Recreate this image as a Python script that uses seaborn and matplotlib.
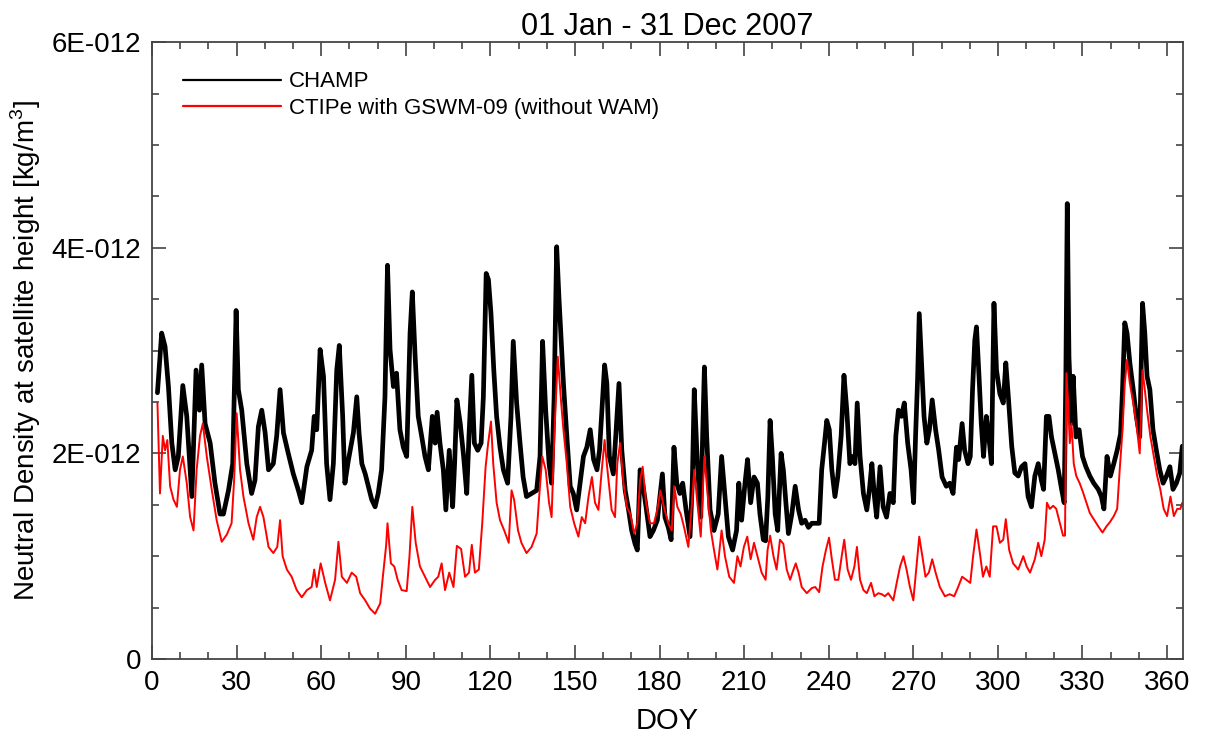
import matplotlib
matplotlib.use("Agg")
import matplotlib.pyplot as plt
from matplotlib.ticker import MultipleLocator
import seaborn as sns
import pandas as pd

# CHAMP, day of year and density (units of 1E-012 kg/m3)
champ_doy = [
    1.9, 3.4, 4.6, 5.8, 7.0, 8.2, 9.3, 10.9, 12.3, 14.1,
    15.6, 16.8, 17.6, 18.8, 20.6, 22.3, 24.1, 25.3, 27.1, 28.6,
    29.8, 30.6, 31.8, 33.6, 35.3, 36.5, 37.7, 38.9, 40.1, 41.3,
    43.0, 44.2, 45.4, 46.6, 48.3, 50.1, 51.9, 53.1, 54.9, 56.6,
    57.5, 58.4, 59.6, 60.8, 61.9, 63.1, 64.3, 65.5, 66.4, 67.6,
    68.4, 69.6, 71.4, 72.6, 73.4, 74.4, 75.6, 76.7, 77.9, 79.1,
    80.2, 81.4, 82.6, 83.5, 84.4, 85.6, 86.7, 87.9, 89.1, 90.3,
    91.5, 92.3, 93.3, 94.4, 95.6, 96.8, 98.0, 99.4, 100.4, 101.1,
    102.1, 103.3, 104.2, 105.4, 106.6, 107.3, 108.1, 109.3, 110.5, 111.6,
    112.4, 113.4, 114.3, 115.5, 116.7, 117.5, 118.5, 119.3, 120.2, 121.2,
    122.2, 123.4, 124.6, 126.1, 127.3, 128.1, 129.3, 130.5, 131.6, 132.8,
    134.6, 136.4, 137.6, 138.5, 139.6, 140.8, 141.7, 142.6, 143.5, 144.3,
    144.9, 145.9, 147.1, 148.3, 149.4, 150.6, 151.8, 153.0, 154.2, 155.4,
    156.6, 157.8, 158.7, 159.7, 160.5, 161.3, 162.2, 163.6, 164.6, 165.6,
    166.6, 167.8, 169.0, 170.1, 171.3, 172.1, 173.1, 174.0, 175.2, 176.6,
    177.8, 179.2, 180.1, 181.0, 181.9, 183.1, 184.1, 185.1, 186.1, 187.2,
    188.2, 189.4, 190.8, 191.6, 192.3, 193.4, 194.6, 195.3, 195.9, 196.7,
    197.9, 199.3, 200.8, 202.0, 203.2, 204.4, 205.9, 207.3, 208.1, 209.1,
    210.3, 211.2, 212.3, 213.5, 214.7, 215.6, 216.8, 217.6, 218.4, 219.2,
    220.0, 221.0, 221.9, 223.1, 223.9, 224.8, 225.7, 226.9, 228.1, 229.3,
    230.4, 231.6, 232.8, 234.0, 235.2, 236.6, 237.5, 238.5, 239.3, 240.2,
    241.1, 242.2, 243.2, 244.4, 245.4, 246.4, 247.5, 248.4, 249.3, 250.1,
    251.1, 252.3, 253.5, 254.4, 255.3, 256.2, 257.0, 258.2, 259.3, 260.5,
    261.7, 262.9, 263.8, 264.7, 265.8, 266.8, 268.0, 269.2, 270.1, 270.8,
    271.5, 272.1, 272.9, 273.8, 274.8, 275.7, 276.7, 277.9, 279.0, 280.2,
    281.7, 282.9, 284.1, 285.3, 286.1, 287.3, 288.2, 289.4, 290.2, 291.0,
    291.8, 292.4, 293.3, 294.1, 294.9, 295.9, 296.8, 297.7, 298.3, 298.6,
    299.5, 300.7, 301.9, 302.8, 303.7, 304.9, 306.0, 307.2, 308.4, 309.6,
    310.7, 311.9, 313.1, 314.3, 315.4, 316.2, 317.2, 318.1, 319.0, 320.2,
    321.4, 322.6, 323.5, 324.1, 324.6, 325.2, 326.1, 326.7, 327.7, 328.8,
    330.0, 331.2, 332.6, 334.0, 335.6, 336.7, 337.6, 338.7, 339.9, 341.1,
    342.3, 343.5, 344.2, 345.0, 345.8, 346.8, 348.0, 349.1, 350.3, 351.3,
    352.1, 352.9, 353.9, 355.0, 356.2, 357.4, 358.6, 359.8, 361.0, 362.1,
    363.3, 364.5, 365.4,
]
champ_rho = [
    2.59, 3.17, 3.04, 2.65, 2.10, 1.84, 1.97, 2.66, 2.36, 1.58,
    2.81, 2.42, 2.86, 2.29, 2.10, 1.71, 1.41, 1.41, 1.64, 1.90,
    3.39, 2.62, 2.42, 1.90, 1.61, 1.74, 2.26, 2.42, 2.20, 1.84,
    1.90, 2.17, 2.62, 2.20, 2.00, 1.80, 1.64, 1.52, 1.87, 2.03,
    2.36, 2.23, 3.01, 2.75, 1.90, 1.55, 1.90, 2.81, 3.05, 2.36,
    1.71, 1.93, 2.20, 2.55, 2.20, 1.90, 1.80, 1.68, 1.55, 1.48,
    1.61, 1.84, 2.55, 3.83, 3.01, 2.65, 2.78, 2.23, 2.06, 1.97,
    3.17, 3.57, 2.94, 2.36, 2.17, 1.97, 1.84, 2.36, 2.10, 2.40,
    2.10, 1.84, 1.45, 2.03, 1.48, 1.90, 2.52, 2.29, 1.97, 1.61,
    2.17, 2.76, 2.10, 2.03, 2.10, 2.55, 3.75, 3.69, 3.36, 2.81,
    2.36, 2.06, 1.84, 1.71, 2.36, 3.09, 2.49, 2.10, 1.77, 1.58,
    1.61, 1.64, 1.97, 3.09, 2.42, 1.90, 1.71, 2.55, 4.01, 3.52,
    3.20, 2.68, 2.17, 1.68, 1.61, 1.45, 1.71, 1.97, 2.06, 2.23,
    1.94, 1.84, 2.03, 2.49, 2.86, 2.68, 1.97, 1.80, 2.23, 2.68,
    2.03, 1.64, 1.45, 1.25, 1.12, 1.06, 1.84, 1.71, 1.48, 1.19,
    1.25, 1.35, 1.58, 1.80, 1.38, 1.28, 1.16, 2.06, 1.71, 1.61,
    1.71, 1.45, 1.19, 1.71, 2.62, 1.90, 1.38, 2.20, 2.84, 2.17,
    1.45, 1.25, 1.41, 1.97, 1.58, 1.19, 1.06, 1.25, 1.71, 1.35,
    1.71, 1.94, 1.52, 1.77, 1.71, 1.41, 1.16, 1.15, 1.58, 2.32,
    1.97, 1.41, 1.25, 2.00, 1.84, 1.52, 1.22, 1.41, 1.68, 1.45,
    1.32, 1.35, 1.28, 1.32, 1.32, 1.32, 1.84, 2.10, 2.32, 2.23,
    1.84, 1.58, 1.77, 2.17, 2.76, 2.42, 1.90, 1.97, 1.90, 2.49,
    1.97, 1.61, 1.45, 1.64, 1.90, 1.58, 1.38, 1.87, 1.48, 1.38,
    1.61, 1.52, 2.17, 2.42, 2.36, 2.49, 2.10, 1.84, 1.52, 2.17,
    2.71, 3.36, 2.88, 2.36, 2.10, 2.23, 2.52, 2.23, 2.03, 1.77,
    1.68, 1.71, 1.61, 2.06, 1.94, 2.29, 2.03, 1.90, 1.97, 2.62,
    3.10, 3.23, 2.75, 2.29, 1.97, 2.36, 2.16, 1.90, 2.94, 3.46,
    2.81, 2.58, 2.49, 2.88, 2.55, 2.07, 1.81, 1.78, 1.87, 1.90,
    1.58, 1.48, 1.78, 1.90, 1.74, 1.65, 2.36, 2.36, 2.16, 2.00,
    1.84, 1.65, 1.52, 2.75, 4.43, 2.94, 2.29, 2.75, 2.16, 2.23,
    1.97, 1.87, 1.78, 1.71, 1.65, 1.58, 1.46, 1.97, 1.78, 1.90,
    2.03, 2.19, 2.62, 3.27, 3.17, 2.88, 2.62, 2.36, 2.16, 3.46,
    3.17, 2.75, 2.62, 2.23, 2.03, 1.84, 1.71, 1.78, 1.87, 1.65,
    1.71, 1.81, 2.07,
]

# CTIPe with GSWM-09, same units
ctipe_doy = [
    1.9, 2.8, 3.8, 4.6, 5.4, 6.4, 7.6, 8.8, 9.9, 10.9,
    12.3, 13.5, 14.7, 15.8, 17.0, 18.0, 19.4, 21.2, 22.9, 24.7,
    26.5, 28.2, 29.1, 30.0, 31.2, 32.4, 34.2, 35.9, 37.1, 38.3,
    39.5, 41.3, 43.0, 44.4, 45.4, 46.3, 47.8, 49.5, 51.3, 53.1,
    54.9, 56.6, 57.5, 58.4, 59.8, 61.4, 63.1, 64.9, 66.1, 67.3,
    69.1, 70.8, 72.4, 73.8, 75.6, 77.3, 79.1, 80.9, 82.0, 83.0,
    83.5, 84.7, 85.9, 87.1, 88.5, 90.3, 91.3, 92.3, 93.5, 95.0,
    96.8, 98.6, 100.4, 101.5, 102.7, 103.9, 105.4, 106.9, 108.1, 109.6,
    111.0, 112.4, 113.4, 114.5, 115.9, 117.1, 118.3, 119.2, 120.2, 121.0,
    122.2, 123.4, 124.9, 126.5, 127.5, 128.4, 129.8, 131.0, 132.8, 134.6,
    136.4, 137.3, 138.4, 139.6, 140.8, 141.7, 142.7, 143.9, 145.1, 145.9,
    147.1, 148.3, 149.7, 151.2, 152.4, 153.6, 154.8, 156.0, 157.1, 158.3,
    159.5, 160.5, 161.5, 163.0, 164.2, 165.0, 166.0, 167.2, 168.4, 169.6,
    171.0, 172.1, 173.1, 174.0, 175.2, 176.6, 178.0, 179.2, 180.3, 181.5,
    183.1, 184.3, 185.2, 186.3, 187.5, 188.7, 190.2, 191.4, 192.3, 193.4,
    194.6, 195.9, 197.0, 198.2, 199.3, 200.5, 202.0, 203.2, 204.7, 206.4,
    207.6, 208.7, 209.9, 211.1, 212.3, 213.5, 214.7, 216.2, 217.6, 218.3,
    219.2, 220.4, 221.5, 222.7, 223.9, 225.1, 226.3, 227.5, 228.3, 229.3,
    230.4, 232.2, 234.0, 235.2, 236.6, 237.8, 239.0, 240.1, 241.1, 242.2,
    243.4, 244.6, 245.5, 246.7, 247.9, 249.1, 250.0, 251.1, 252.3, 253.5,
    255.0, 256.2, 257.6, 258.8, 259.9, 261.1, 262.9, 264.1, 265.3, 266.5,
    267.6, 268.8, 270.0, 271.2, 272.1, 273.2, 274.3, 275.5, 276.7, 277.9,
    279.4, 281.2, 282.9, 284.5, 285.9, 287.3, 288.8, 290.2, 291.2, 292.4,
    293.6, 294.7, 295.9, 297.1, 298.3, 299.5, 300.7, 301.9, 302.8, 304.0,
    305.4, 307.2, 309.0, 310.2, 311.4, 313.1, 314.3, 315.4, 316.6, 317.4,
    318.4, 319.6, 320.7, 321.9, 323.1, 323.8, 324.3, 324.9, 325.5, 326.1,
    326.9, 327.8, 329.0, 330.2, 331.4, 332.6, 334.0, 335.6, 337.1, 338.5,
    339.7, 341.1, 342.3, 343.2, 344.2, 345.0, 345.8, 346.8, 348.0, 349.1,
    350.3, 351.3, 352.1, 352.9, 354.1, 355.3, 356.5, 357.6, 358.8, 360.0,
    361.2, 362.4, 363.6, 364.7, 365.4,
]
ctipe_rho = [
    2.49, 1.61, 2.17, 2.03, 2.13, 1.68, 1.55, 1.48, 1.84, 1.97,
    1.71, 1.38, 1.25, 1.84, 2.17, 2.29, 1.97, 1.64, 1.35, 1.14,
    1.21, 1.32, 1.74, 2.39, 1.84, 1.58, 1.32, 1.16, 1.38, 1.48,
    1.38, 1.09, 1.03, 1.09, 1.35, 1.00, 0.87, 0.80, 0.67, 0.60,
    0.67, 0.70, 0.87, 0.70, 0.93, 0.74, 0.57, 0.77, 1.14, 0.80,
    0.74, 0.84, 0.80, 0.64, 0.57, 0.49, 0.44, 0.54, 0.84, 1.10,
    1.32, 0.93, 0.90, 0.77, 0.67, 0.66, 1.00, 1.48, 1.13, 0.90,
    0.80, 0.70, 0.77, 0.80, 0.93, 0.67, 0.84, 0.70, 1.10, 1.07,
    0.80, 0.84, 1.11, 0.84, 0.87, 1.32, 1.87, 2.10, 2.31, 1.90,
    1.52, 1.35, 1.25, 1.13, 1.64, 1.55, 1.25, 1.13, 1.03, 1.09,
    1.22, 1.58, 1.97, 1.84, 1.52, 1.38, 2.20, 2.94, 2.49, 2.23,
    1.90, 1.48, 1.32, 1.19, 1.38, 1.32, 1.58, 1.77, 1.52, 1.45,
    1.84, 2.13, 1.84, 1.45, 1.38, 1.90, 2.10, 1.71, 1.48, 1.41,
    1.22, 1.32, 1.74, 1.87, 1.52, 1.32, 1.32, 1.45, 1.64, 1.48,
    1.32, 1.25, 1.68, 1.48, 1.41, 1.28, 1.09, 1.48, 1.84, 1.52,
    1.19, 1.97, 1.61, 1.25, 1.06, 0.87, 1.25, 1.00, 0.80, 0.74,
    1.00, 0.90, 1.09, 1.19, 0.97, 1.13, 1.00, 0.84, 0.77, 1.06,
    1.20, 1.00, 0.87, 1.16, 1.12, 0.87, 0.77, 0.87, 0.93, 0.84,
    0.70, 0.64, 0.69, 0.70, 0.65, 0.90, 1.06, 1.18, 0.97, 0.77,
    0.77, 1.00, 1.16, 0.87, 0.77, 0.90, 1.09, 0.77, 0.67, 0.64,
    0.74, 0.61, 0.64, 0.63, 0.61, 0.64, 0.57, 0.74, 0.90, 1.00,
    0.87, 0.70, 0.57, 0.93, 1.19, 1.00, 0.80, 0.84, 0.97, 0.84,
    0.70, 0.61, 0.63, 0.61, 0.70, 0.80, 0.77, 0.74, 1.00, 1.26,
    1.03, 0.80, 0.90, 0.80, 1.29, 1.29, 1.13, 1.16, 1.36, 1.06,
    0.93, 0.87, 1.00, 0.90, 0.84, 0.97, 1.13, 1.00, 1.16, 1.52,
    1.46, 1.49, 1.46, 1.33, 1.20, 1.20, 2.78, 2.49, 2.10, 2.29,
    1.90, 1.78, 1.71, 1.62, 1.52, 1.42, 1.36, 1.29, 1.23, 1.29,
    1.33, 1.39, 1.46, 1.84, 2.23, 2.68, 2.91, 2.68, 2.49, 2.29,
    2.00, 2.81, 2.62, 2.42, 2.16, 1.97, 1.78, 1.65, 1.46, 1.39,
    1.58, 1.39, 1.46, 1.46, 1.52,
]

y_ticks = [0, 2e-12, 4e-12, 6e-12]
y_ticklabels = ["0", "2E-012", "4E-012", "6E-012"]

champ = pd.DataFrame({"doy": champ_doy, "rho": [v * 1e-12 for v in champ_rho]})
ctipe = pd.DataFrame({"doy": ctipe_doy, "rho": [v * 1e-12 for v in ctipe_rho]})

sns.set_style("ticks")
plt.rcParams["font.family"] = ["Liberation Sans", "DejaVu Sans"]
plt.rcParams["mathtext.fontset"] = "custom"
plt.rcParams["mathtext.rm"] = "Liberation Sans"
plt.rcParams["text.color"] = "black"
plt.rcParams["axes.labelcolor"] = "black"

fig = plt.figure(figsize=(12.07, 7.40), dpi=100)
ax = fig.add_axes([0.126, 0.1095, 0.854, 0.8335])

sns.lineplot(data=champ, x="doy", y="rho", color="black", lw=3.4,
             label="CHAMP", ax=ax)
sns.lineplot(data=ctipe, x="doy", y="rho", color="#ff0000", lw=1.4,
             label="CTIPe with GSWM-09 (without WAM)", ax=ax)

ax.set_xlim(0, 365.6)
ax.set_ylim(0, 6e-12)
ax.xaxis.set_major_locator(MultipleLocator(30))
ax.xaxis.set_minor_locator(MultipleLocator(10))
ax.set_yticks(y_ticks)
ax.set_yticklabels(y_ticklabels)
ax.yaxis.set_minor_locator(MultipleLocator(0.5e-12))

ax.tick_params(which="both", direction="in", top=True, right=True,
               color="#444444", width=1.2, labelcolor="black")
ax.tick_params(which="major", length=10, labelsize=20, pad=8)
ax.tick_params(which="minor", length=5)
for s in ax.spines.values():
    s.set_color("#444444")
    s.set_linewidth(1.3)

ax.set_xlabel("DOY", fontsize=21, labelpad=8)
ax.set_ylabel("Neutral Density at satellite height [kg/m$^3$]", fontsize=20,
              labelpad=6)
ax.set_title("01 Jan - 31 Dec 2007", fontsize=22, pad=4)

leg = ax.legend(loc="upper left", bbox_to_anchor=(0.011, 0.985), frameon=False,
                fontsize=16, handlelength=4.4, handletextpad=0.35,
                labelspacing=0.25)
for ln in leg.get_lines():
    ln.set_linewidth(1.6)

fig.savefig("out.png", dpi=100)
